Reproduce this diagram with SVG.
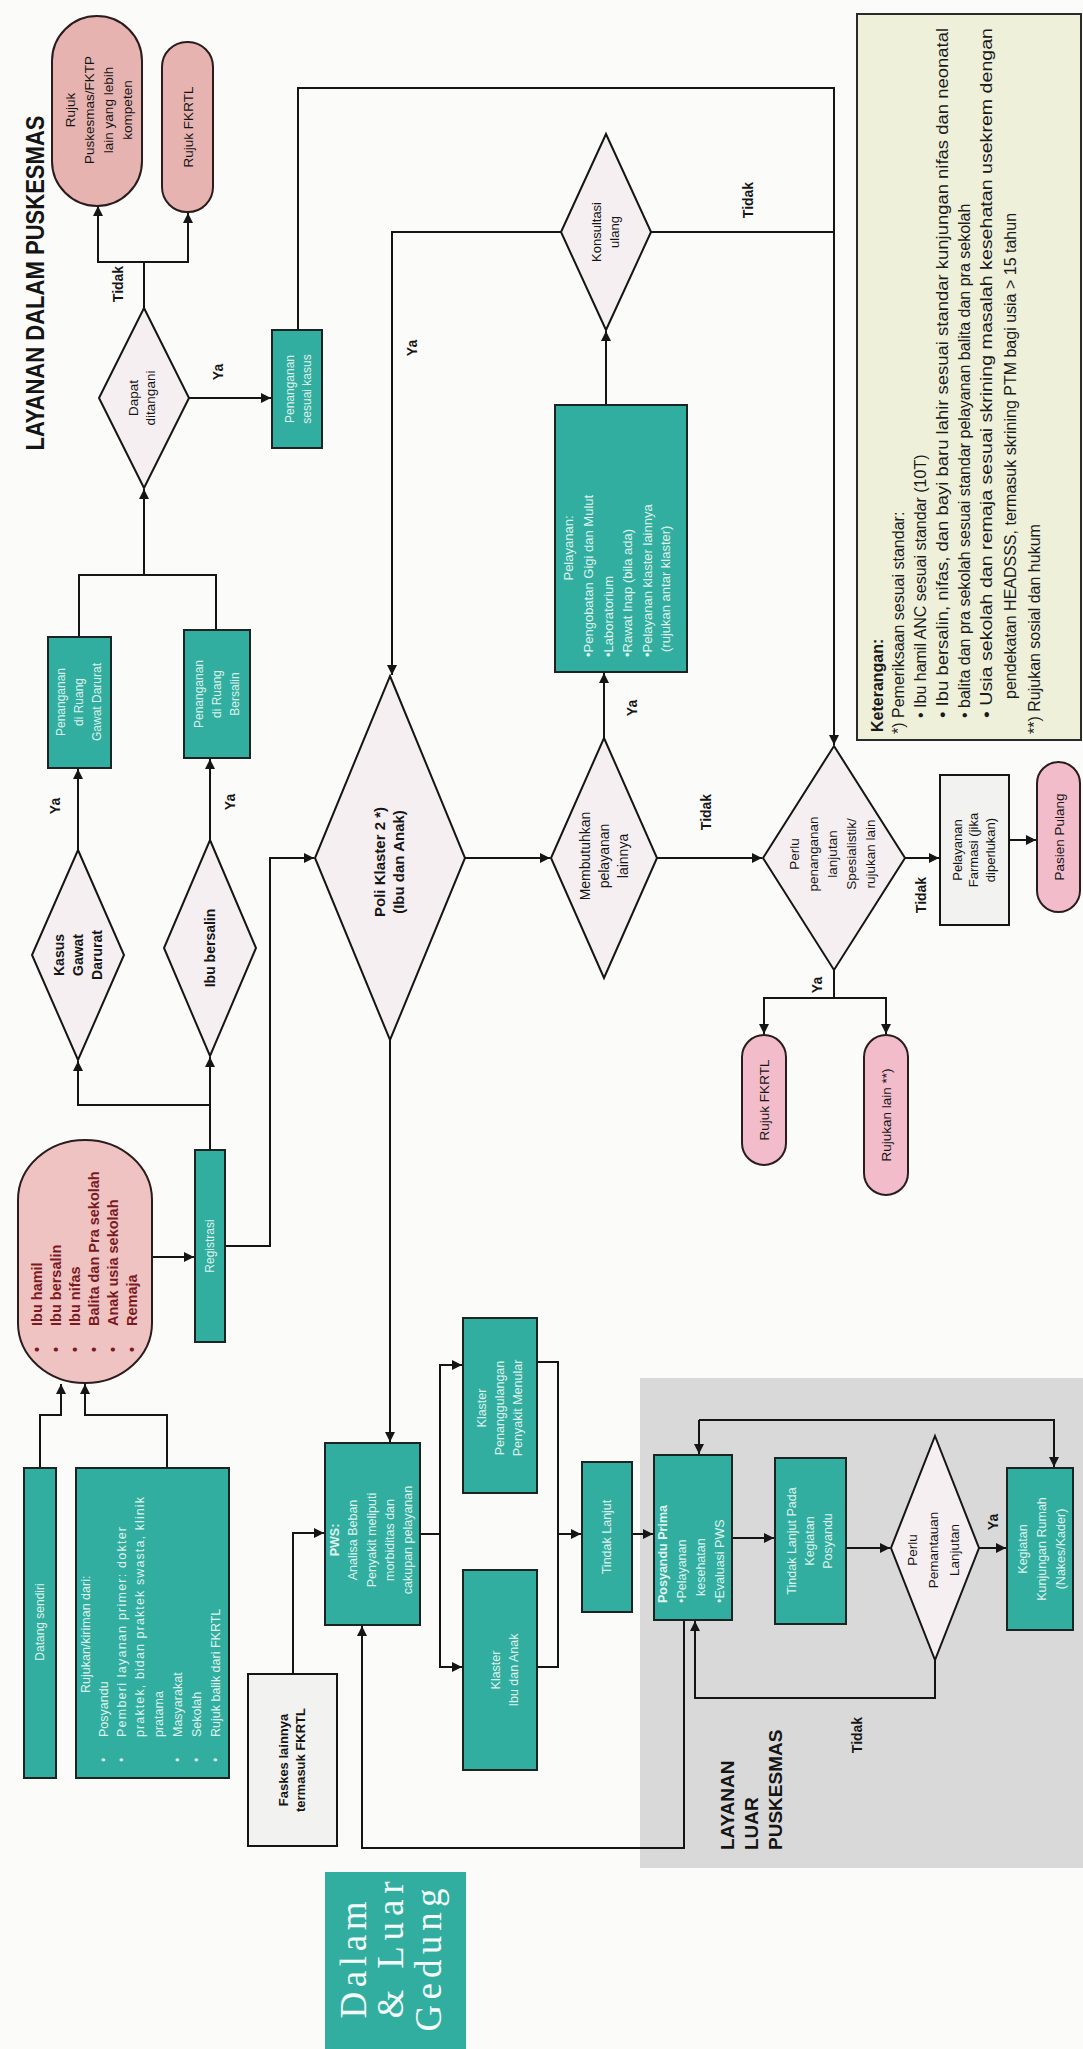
<svg xmlns="http://www.w3.org/2000/svg" width="1083" height="2049" viewBox="0 0 1083 2049">
<defs>
<marker id="arr" viewBox="0 0 10 10" refX="10" refY="5" markerWidth="10" markerHeight="10" markerUnits="userSpaceOnUse" orient="auto"><path d="M0,0 L10,5 L0,10 z" fill="#151515"/></marker>
<style>
.ln{fill:none;stroke:#151515;stroke-width:2}
.teal{fill:#32aea0;stroke:#1b2422;stroke-width:2}
.pink{fill:#e7b3b1;stroke:#2a1c1c;stroke-width:2}
.pink2{fill:#f3bccb;stroke:#2a1c1c;stroke-width:2}
.dia{fill:#f6eff1;stroke:#151515;stroke-width:2}
.gbox{fill:#f2f2f0;stroke:#151515;stroke-width:2}
text{font-family:"Liberation Sans",Arial,sans-serif}
.tw{fill:#dff2ec}
.td{fill:#151515}
.b{font-weight:bold}
.lab{fill:#151515;font-size:14px;font-weight:bold}
.leg{fill:#1a1a1a;font-size:16px}
.serif{font-family:"Liberation Serif","Times New Roman",serif}
</style>
</defs>
<rect x="0" y="0" width="1083" height="2049" fill="#fbfbfa"/>

<g id="bg-luar"><rect x="640" y="1378" width="443" height="490" fill="#d9d9d9"/></g>

<g id="title"><text transform="rotate(-90)" x="-283" y="44" text-anchor="middle" class="b" style="font-size:26px" fill="#151515" textLength="335" lengthAdjust="spacingAndGlyphs">LAYANAN DALAM PUSKESMAS</text></g>

<g id="connectors">
<path class="ln" d="M144,308 V262 H98 V206" marker-end="url(#arr)"/>
<path class="ln" d="M144,262 H188 V213" marker-end="url(#arr)"/>
<path class="ln" d="M189,398 H271" marker-end="url(#arr)"/>
<path class="ln" d="M298,330 V88 H834 V745" marker-end="url(#arr)"/>
<path class="ln" d="M79,637 V575 H216 V630"/>
<path class="ln" d="M144,575 V489" marker-end="url(#arr)"/>
<path class="ln" d="M78,850 V769" marker-end="url(#arr)"/>
<path class="ln" d="M210,840 V759" marker-end="url(#arr)"/>
<path class="ln" d="M210,1150 V1105 H78 V1061" marker-end="url(#arr)"/>
<path class="ln" d="M210,1105 V1057" marker-end="url(#arr)"/>
<path class="ln" d="M152,1257 H194" marker-end="url(#arr)"/>
<path class="ln" d="M225,1246 H270 V858 H314" marker-end="url(#arr)"/>
<path class="ln" d="M40,1468 V1415 H61 V1384" marker-end="url(#arr)"/>
<path class="ln" d="M167,1468 V1415 H85 V1384" marker-end="url(#arr)"/>
<path class="ln" d="M561,232 H392 V675" marker-end="url(#arr)"/>
<path class="ln" d="M651,232 H834"/>
<path class="ln" d="M606,405 V331" marker-end="url(#arr)"/>
<path class="ln" d="M604,738 V673" marker-end="url(#arr)"/>
<path class="ln" d="M465,858 H550" marker-end="url(#arr)"/>
<path class="ln" d="M657,858 H762" marker-end="url(#arr)"/>
<path class="ln" d="M834,970 V998 H764 V1034" marker-end="url(#arr)"/>
<path class="ln" d="M834,998 H886 V1034" marker-end="url(#arr)"/>
<path class="ln" d="M905,858 H939" marker-end="url(#arr)"/>
<path class="ln" d="M1009,840 H1036" marker-end="url(#arr)"/>
<path class="ln" d="M390,1040 V1442" marker-end="url(#arr)"/>
<path class="ln" d="M293,1674 V1533 H324" marker-end="url(#arr)"/>
<path class="ln" d="M420,1534 H440 V1365 H462" marker-end="url(#arr)"/>
<path class="ln" d="M440,1534 V1667 H462" marker-end="url(#arr)"/>
<path class="ln" d="M537,1362 H558 V1667 H537"/>
<path class="ln" d="M558,1534 H581" marker-end="url(#arr)"/>
<path class="ln" d="M632,1534 H653" marker-end="url(#arr)"/>
<path class="ln" d="M732,1538 H774" marker-end="url(#arr)"/>
<path class="ln" d="M846,1548 H890" marker-end="url(#arr)"/>
<path class="ln" d="M979,1548 H1006" marker-end="url(#arr)"/>
<path class="ln" d="M699,1420 V1454" marker-end="url(#arr)"/>
<path class="ln" d="M699,1420 H1054 V1467" marker-end="url(#arr)"/>
<path class="ln" d="M935,1660 V1698 H695 V1621" marker-end="url(#arr)"/>
<path class="ln" d="M684,1620 V1848 H362 V1626" marker-end="url(#arr)"/>
<g class="lab">
<text transform="rotate(-90)" x="-284" y="123" text-anchor="middle">Tidak</text>
<text transform="rotate(-90)" x="-372" y="223" text-anchor="middle">Ya</text>
<text transform="rotate(-90)" x="-806" y="60" text-anchor="middle">Ya</text>
<text transform="rotate(-90)" x="-802" y="235" text-anchor="middle">Ya</text>
<text transform="rotate(-90)" x="-348" y="417" text-anchor="middle">Ya</text>
<text transform="rotate(-90)" x="-200" y="753" text-anchor="middle">Tidak</text>
<text transform="rotate(-90)" x="-708" y="637" text-anchor="middle">Ya</text>
<text transform="rotate(-90)" x="-812" y="711" text-anchor="middle">Tidak</text>
<text transform="rotate(-90)" x="-985" y="822" text-anchor="middle">Ya</text>
<text transform="rotate(-90)" x="-895" y="926" text-anchor="middle">Tidak</text>
<text transform="rotate(-90)" x="-1522" y="998" text-anchor="middle">Ya</text>
<text transform="rotate(-90)" x="-1735" y="862" text-anchor="middle">Tidak</text>
</g>
</g>

<g id="rujuk-puskesmas"><rect class="pink" x="52" y="16" width="90" height="190" rx="45"/>
<text transform="rotate(-90)" class="td" style="font-size:13.5px" text-anchor="middle"><tspan x="-110" y="74.5">Rujuk</tspan><tspan x="-110" y="93.5">Puskesmas/FKTP</tspan><tspan x="-110" y="112.5">lain yang lebih</tspan><tspan x="-110" y="131.5">kompeten</tspan></text></g>

<g id="rujuk-fkrtl-1"><rect class="pink" x="162" y="42" width="51" height="170" rx="25"/>
<text transform="rotate(-90)" class="td" style="font-size:13.5px" x="-127" y="193" text-anchor="middle">Rujuk FKRTL</text></g>

<g id="dapat-ditangani"><polygon class="dia" points="144,308 189,398 144,488 99,398"/>
<text transform="rotate(-90)" class="td" style="font-size:13.5px" text-anchor="middle"><tspan x="-398" y="138">Dapat</tspan><tspan x="-398" y="155">ditangani</tspan></text></g>

<g id="penanganan-kasus"><rect class="teal" x="272" y="330" width="50" height="118"/>
<text transform="rotate(-90)" class="tw" style="font-size:12px" text-anchor="middle"><tspan x="-389" y="294">Penanganan</tspan><tspan x="-389" y="311">sesuai kasus</tspan></text></g>

<g id="penanganan-gawat"><rect class="teal" x="48" y="637" width="63" height="131"/>
<text transform="rotate(-90)" class="tw" style="font-size:12px" text-anchor="middle"><tspan x="-702" y="65">Penanganan</tspan><tspan x="-702" y="83">di Ruang</tspan><tspan x="-702" y="101">Gawat Darurat</tspan></text></g>

<g id="penanganan-bersalin"><rect class="teal" x="184" y="630" width="66" height="128"/>
<text transform="rotate(-90)" class="tw" style="font-size:12px" text-anchor="middle"><tspan x="-694" y="203">Penanganan</tspan><tspan x="-694" y="221">di Ruang</tspan><tspan x="-694" y="239">Bersalin</tspan></text></g>

<g id="kasus-gawat"><polygon class="dia" points="78,850 124,955 78,1060 32,955"/>
<text transform="rotate(-90)" class="td b" style="font-size:14px" text-anchor="middle"><tspan x="-955" y="64">Kasus</tspan><tspan x="-955" y="83">Gawat</tspan><tspan x="-955" y="102">Darurat</tspan></text></g>

<g id="ibu-bersalin"><polygon class="dia" points="210,840 256,948 210,1056 164,948"/>
<text transform="rotate(-90)" class="td b" style="font-size:14px" x="-948" y="215" text-anchor="middle">Ibu bersalin</text></g>

<g id="poli-klaster"><polygon class="dia" points="390,676 465,858 390,1040 315,858"/>
<text transform="rotate(-90)" class="td b" style="font-size:15px" text-anchor="middle"><tspan x="-862" y="385">Poli Klaster 2 *)</tspan><tspan x="-862" y="404">(Ibu dan Anak)</tspan></text></g>

<g id="konsultasi-ulang"><polygon class="dia" points="606,134 651,232 606,330 561,232"/>
<text transform="rotate(-90)" class="td" style="font-size:13px" text-anchor="middle"><tspan x="-232" y="601">Konsultasi</tspan><tspan x="-232" y="619">ulang</tspan></text></g>

<g id="pelayanan"><rect class="teal" x="555" y="405" width="132" height="267"/>
<text transform="rotate(-90)" class="tw" style="font-size:13px"><tspan x="-548" y="573" text-anchor="middle">Pelayanan:</tspan><tspan x="-657" y="593">•Pengobatan Gigi dan Mulut</tspan><tspan x="-657" y="613">•Laboratorium</tspan><tspan x="-657" y="632">•Rawat Inap (bila ada)</tspan><tspan x="-657" y="652">•Pelayanan klaster lainnya</tspan><tspan x="-652" y="670">(rujukan antar klaster)</tspan></text></g>

<g id="membutuhkan"><polygon class="dia" points="604,738 657,858 604,978 551,858"/>
<text transform="rotate(-90)" class="td" style="font-size:14px" text-anchor="middle"><tspan x="-856" y="590">Membutuhkan</tspan><tspan x="-856" y="609">pelayanan</tspan><tspan x="-856" y="628">lainnya</tspan></text></g>

<g id="perlu-penanganan"><polygon class="dia" points="834,746 905,858 834,970 763,858"/>
<text transform="rotate(-90)" class="td" style="font-size:13.5px" text-anchor="middle"><tspan x="-854" y="799">Perlu</tspan><tspan x="-854" y="818">penanganan</tspan><tspan x="-854" y="837">lanjutan</tspan><tspan x="-854" y="856">Spesialistik/</tspan><tspan x="-854" y="875">rujukan lain</tspan></text></g>

<g id="farmasi"><rect class="gbox" x="940" y="775" width="69" height="150"/>
<text transform="rotate(-90)" class="td" style="font-size:13px" text-anchor="middle"><tspan x="-850" y="961.5">Pelayanan</tspan><tspan x="-850" y="978">Farmasi (jika</tspan><tspan x="-850" y="994.5">diperlukan)</tspan></text></g>

<g id="pasien-pulang"><rect class="pink2" x="1037" y="762" width="43" height="150" rx="21.5"/>
<text transform="rotate(-90)" class="td" style="font-size:13.5px" x="-837" y="1064" text-anchor="middle">Pasien Pulang</text></g>

<g id="rujuk-fkrtl-2"><rect class="pink2" x="742" y="1035" width="44" height="130" rx="22"/>
<text transform="rotate(-90)" class="td" style="font-size:13.5px" x="-1100" y="769" text-anchor="middle">Rujuk FKRTL</text></g>

<g id="rujukan-lain"><rect class="pink2" x="864" y="1035" width="44" height="160" rx="22"/>
<text transform="rotate(-90)" class="td" style="font-size:13.5px" x="-1115" y="891" text-anchor="middle">Rujukan lain **)</text></g>

<g id="keterangan"><rect x="857" y="14" width="224" height="726" fill="#eef0da" stroke="#2a2a2a" stroke-width="2"/>
<text transform="rotate(-90)" class="leg">
<tspan x="-732" y="883" font-weight="bold">Keterangan:</tspan>
<tspan x="-734" y="904">*) Pemeriksaan sesuai standar:</tspan>
<tspan x="-718" y="926">• Ibu hamil ANC sesuai standar (10T)</tspan>
<tspan x="-718" y="948" textLength="690" lengthAdjust="spacingAndGlyphs">• Ibu bersalin, nifas, dan bayi baru lahir sesuai standar kunjungan nifas dan neonatal</tspan>
<tspan x="-718" y="970">• balita dan pra sekolah sesuai standar pelayanan balita dan pra sekolah</tspan>
<tspan x="-718" y="992" textLength="690" lengthAdjust="spacingAndGlyphs">• Usia sekolah dan remaja sesuai skrining masalah kesehatan usekrem dengan</tspan>
<tspan x="-699" y="1016">pendekatan HEADSSS, termasuk skrining PTM bagi usia &gt; 15 tahun</tspan>
<tspan x="-734" y="1040">**) Rujukan sosial dan hukum</tspan>
</text></g>

<g id="sasaran"><rect x="18" y="1140" width="134" height="243" rx="67" ry="60" fill="#f0c3c3" stroke="#2a1c1c" stroke-width="2"/>
<text transform="rotate(-90)" style="font-size:14.5px" font-weight="bold" fill="#7a1a1f">
<tspan x="-1352" y="42">•</tspan><tspan x="-1326" y="42">Ibu hamil</tspan>
<tspan x="-1352" y="61">•</tspan><tspan x="-1326" y="61">Ibu bersalin</tspan>
<tspan x="-1352" y="80">•</tspan><tspan x="-1326" y="80">Ibu nifas</tspan>
<tspan x="-1352" y="99">•</tspan><tspan x="-1326" y="99">Balita dan Pra sekolah</tspan>
<tspan x="-1352" y="118">•</tspan><tspan x="-1326" y="118">Anak usia sekolah</tspan>
<tspan x="-1352" y="137">•</tspan><tspan x="-1326" y="137">Remaja</tspan>
</text></g>

<g id="registrasi"><rect class="teal" x="195" y="1150" width="30" height="192"/>
<text transform="rotate(-90)" class="tw" style="font-size:12px" x="-1246" y="214" text-anchor="middle">Registrasi</text></g>

<g id="datang-sendiri"><rect class="teal" x="24" y="1468" width="32" height="310"/>
<text transform="rotate(-90)" class="tw" style="font-size:12px" x="-1622" y="44" text-anchor="middle">Datang sendiri</text></g>

<g id="rujukan-kiriman"><rect class="teal" x="76" y="1468" width="153" height="310"/>
<text transform="rotate(-90)" class="tw" style="font-size:12.5px">
<tspan x="-1693" y="90">Rujukan/kiriman dari:</tspan>
<tspan x="-1762" y="108">•</tspan><tspan x="-1737" y="108">Posyandu</tspan>
<tspan x="-1762" y="126">•</tspan><tspan x="-1737" y="126" textLength="210" lengthAdjust="spacing">Pemberi layanan primer: dokter</tspan>
<tspan x="-1737" y="144" textLength="240" lengthAdjust="spacing">praktek, bidan praktek swasta, klinik</tspan>
<tspan x="-1737" y="163">pratama</tspan>
<tspan x="-1762" y="182">•</tspan><tspan x="-1737" y="182">Masyarakat</tspan>
<tspan x="-1762" y="201">•</tspan><tspan x="-1737" y="201">Sekolah</tspan>
<tspan x="-1762" y="220">•</tspan><tspan x="-1737" y="220">Rujuk balik dari FKRTL</tspan>
</text></g>

<g id="faskes-lainnya"><rect class="gbox" x="248" y="1674" width="89" height="172"/>
<text transform="rotate(-90)" class="td b" style="font-size:13px" text-anchor="middle"><tspan x="-1760" y="288">Faskes lainnya</tspan><tspan x="-1760" y="305">termasuk FKRTL</tspan></text></g>

<g id="pws"><rect class="teal" x="325" y="1443" width="95" height="182"/>
<text transform="rotate(-90)" class="tw" style="font-size:12.5px" text-anchor="middle"><tspan x="-1540" y="339" font-weight="bold">PWS:</tspan><tspan x="-1540" y="357">Analisa Beban</tspan><tspan x="-1540" y="376">Penyakit meliputi</tspan><tspan x="-1540" y="394">morbiditas dan</tspan><tspan x="-1540" y="412">cakupan pelayanan</tspan></text></g>

<g id="klaster-ppm"><rect class="teal" x="463" y="1318" width="74" height="175"/>
<text transform="rotate(-90)" class="tw" style="font-size:12.5px" text-anchor="middle"><tspan x="-1408" y="486">Klaster</tspan><tspan x="-1408" y="504">Penanggulangan</tspan><tspan x="-1408" y="522">Penyakit Menular</tspan></text></g>

<g id="klaster-ia"><rect class="teal" x="463" y="1570" width="74" height="200"/>
<text transform="rotate(-90)" class="tw" style="font-size:12.5px" text-anchor="middle"><tspan x="-1670" y="500">Klaster</tspan><tspan x="-1670" y="518">Ibu dan Anak</tspan></text></g>

<g id="tindak-lanjut"><rect class="teal" x="582" y="1462" width="50" height="150"/>
<text transform="rotate(-90)" class="tw" style="font-size:12.5px" x="-1537" y="611" text-anchor="middle">Tindak Lanjut</text></g>

<g id="posyandu-prima"><rect class="teal" x="654" y="1455" width="78" height="165"/>
<text transform="rotate(-90)" class="tw" style="font-size:12.5px"><tspan x="-1603" y="667" font-weight="bold">Posyandu Prima</tspan><tspan x="-1603" y="686">•Pelayanan</tspan><tspan x="-1596" y="705">kesehatan</tspan><tspan x="-1603" y="724">•Evaluasi PWS</tspan></text></g>

<g id="tindak-lanjut-posyandu"><rect class="teal" x="775" y="1458" width="71" height="166"/>
<text transform="rotate(-90)" class="tw" style="font-size:12.5px" text-anchor="middle"><tspan x="-1541" y="796">Tindak Lanjut Pada</tspan><tspan x="-1541" y="814">Kegiatan</tspan><tspan x="-1541" y="832">Posyandu</tspan></text></g>

<g id="perlu-pemantauan"><polygon class="dia" points="935,1436 979,1548 935,1660 891,1548"/>
<text transform="rotate(-90)" class="td" style="font-size:13.5px" text-anchor="middle"><tspan x="-1550" y="917">Perlu</tspan><tspan x="-1550" y="938">Pemantauan</tspan><tspan x="-1550" y="959">Lanjutan</tspan></text></g>

<g id="kunjungan-rumah"><rect class="teal" x="1007" y="1468" width="66" height="162"/>
<text transform="rotate(-90)" class="tw" style="font-size:12.5px" text-anchor="middle"><tspan x="-1549" y="1027">Kegiatan</tspan><tspan x="-1549" y="1046">Kunjungan Rumah</tspan><tspan x="-1549" y="1065">(Nakes/Kader)</tspan></text></g>

<g id="label-luar"><text transform="rotate(-90)" style="font-size:19px" font-weight="bold" fill="#151515"><tspan x="-1850" y="734">LAYANAN</tspan><tspan x="-1850" y="758">LUAR</tspan><tspan x="-1850" y="782">PUSKESMAS</tspan></text></g>

<g id="dalam-luar-gedung"><rect x="325" y="1872" width="141" height="177" fill="#32aea0"/>
<text transform="rotate(-90)" class="serif" style="font-size:37px" fill="#f4fbf9" text-anchor="middle"><tspan x="-1960" y="366" textLength="117" lengthAdjust="spacing">Dalam</tspan><tspan x="-1950" y="403" textLength="137" lengthAdjust="spacing">&amp; Luar</tspan><tspan x="-1960" y="441" textLength="143" lengthAdjust="spacing">Gedung</tspan></text></g>
</svg>
